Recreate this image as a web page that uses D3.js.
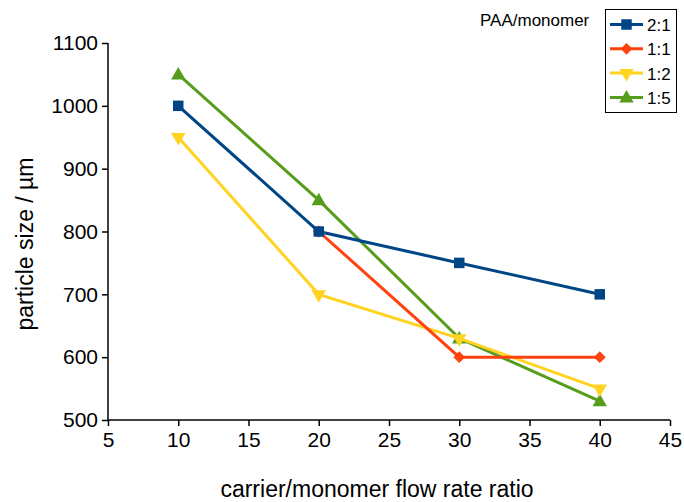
<!DOCTYPE html>
<html>
<head>
<meta charset="utf-8">
<script src="https://cdn.jsdelivr.net/npm/d3@7"></script>
<style>
  body { margin: 0; background: #fff; }
  text { font-family: "Liberation Sans", Arial, sans-serif; }
</style>
</head>
<body>
<div id="chart"></div>
<script>
// data
const seriesNames = ['2:1', '1:1', '1:2', '1:5'];
const seriesColors = ['#004586', '#ff420e', '#ffd320', '#579d1c'];
const seriesSymbols = ['square', 'diamond', 'triangleDown', 'triangle'];
const ratio21 = [[10, 1000], [20, 800], [30, 750], [40, 700]];
const ratio11 = [[20, 800], [30, 600], [40, 600]];
const ratio12 = [[10, 950], [20, 700], [30, 630], [40, 550]];
const ratio15 = [[10, 1050], [20, 850], [30, 630], [40, 530]];
const xTicks = [5, 10, 15, 20, 25, 30, 35, 40, 45];
const yTicks = [500, 600, 700, 800, 900, 1000, 1100];

const width = 684, height = 502;
const margin = { left: 108, right: 14, top: 43, bottom: 82 };

const svg = d3.select('#chart').append('svg')
  .attr('width', width)
  .attr('height', height);

const x = d3.scaleLinear().domain([5, 45]).range([margin.left, width - margin.right]);
const y = d3.scaleLinear().domain([500, 1100]).range([height - margin.bottom, margin.top]);

// axes
const xAxis = svg.append('g')
  .attr('transform', `translate(0,${y(500)})`)
  .call(d3.axisBottom(x).tickValues(xTicks).tickFormat(d3.format('d')).tickSize(6).tickPadding(6));
const yAxis = svg.append('g')
  .attr('transform', `translate(${x(5)},0)`)
  .call(d3.axisLeft(y).tickValues(yTicks).tickFormat(d3.format('d')).tickSize(6).tickPadding(4));

[xAxis, yAxis].forEach(a => {
  a.selectAll('path, line').attr('stroke', '#000').attr('stroke-width', 1.5);
  a.selectAll('text').attr('font-size', 21).attr('fill', '#000')
    .attr('font-family', '"Liberation Sans", Arial, sans-serif');
});
xAxis.select('.domain').attr('d', `M${x(5)},0H${x(45)}`);
yAxis.select('.domain').attr('d', `M0,${y(500)}V${y(1100)}`);

// axis titles
svg.append('text')
  .attr('x', 377).attr('y', 497)
  .attr('text-anchor', 'middle')
  .attr('font-size', 23)
  .text('carrier/monomer flow rate ratio');

svg.append('text')
  .attr('transform', 'translate(33,244) rotate(-90)')
  .attr('text-anchor', 'middle')
  .attr('font-size', 23)
  .text('particle size / µm');

const symbolTypes = {
  square: d3.symbolSquare,
  diamond: d3.symbolSquare,
  triangle: d3.symbolTriangle,
  triangleDown: d3.symbolTriangle
};
const symbolSizes = { square: 110, diamond: 70, triangle: 90, triangleDown: 90 };

function symbolPath(kind) {
  return d3.symbol().type(symbolTypes[kind]).size(symbolSizes[kind])();
}
function symbolTransform(kind, px, py) {
  if (kind === 'triangleDown') return `translate(${px},${py}) rotate(180)`;
  if (kind === 'triangle') return `translate(${px},${py + 1})`;
  if (kind === 'diamond') return `translate(${px},${py}) rotate(45)`;
  return `translate(${px},${py})`;
}

const allSeries = [ratio21, ratio11, ratio12, ratio15];
const line = d3.line().x(d => x(d[0])).y(d => y(d[1]));

// reverse order so 2:1 ends up on top
for (let i = allSeries.length - 1; i >= 0; i--) {
  const g = svg.append('g');
  g.append('path')
    .datum(allSeries[i])
    .attr('d', line)
    .attr('fill', 'none')
    .attr('stroke', seriesColors[i])
    .attr('stroke-width', 3);
  g.selectAll('path.pt')
    .data(allSeries[i])
    .enter().append('path')
    .attr('class', 'pt')
    .attr('d', symbolPath(seriesSymbols[i]))
    .attr('transform', d => symbolTransform(seriesSymbols[i], x(d[0]), y(d[1])))
    .attr('fill', seriesColors[i]);
}

// legend
svg.append('text')
  .attr('x', 480).attr('y', 26)
  .attr('font-size', 17)
  .text('PAA/monomer');

svg.append('rect')
  .attr('x', 605.5).attr('y', 9.5)
  .attr('width', 71).attr('height', 103)
  .attr('fill', '#fff')
  .attr('stroke', '#000')
  .attr('stroke-width', 1);

seriesNames.forEach((name, i) => {
  const ly = 24.5 + i * 24.3;
  const lg = svg.append('g');
  lg.append('line')
    .attr('x1', 610).attr('x2', 643)
    .attr('y1', ly).attr('y2', ly)
    .attr('stroke', seriesColors[i])
    .attr('stroke-width', 3);
  lg.append('path')
    .attr('d', symbolPath(seriesSymbols[i]))
    .attr('transform', symbolTransform(seriesSymbols[i], 626.5, ly))
    .attr('fill', seriesColors[i]);
  lg.append('text')
    .attr('x', 647).attr('y', ly + 6.5)
    .attr('font-size', 17)
    .text(name);
});
</script>
</body>
</html>
